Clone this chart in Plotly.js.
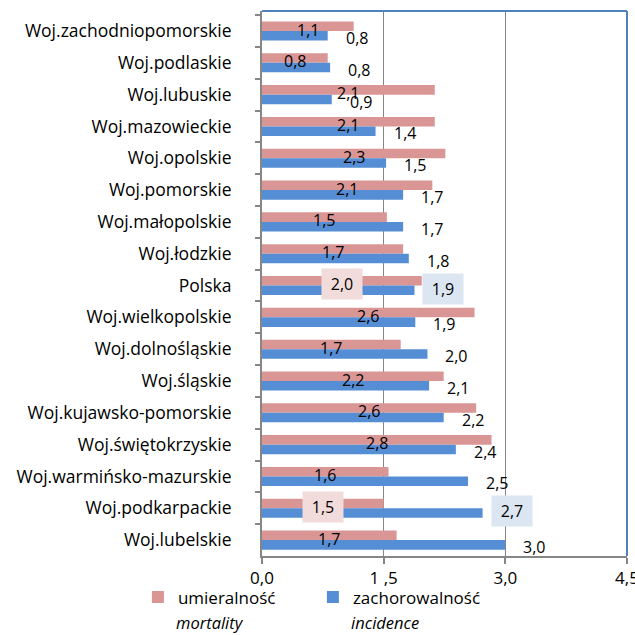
<!DOCTYPE html>
<html>
<head>
<meta charset="utf-8">
<script src="https://cdn.plot.ly/plotly-3.0.1.min.js"></script>
<style>html,body{margin:0;padding:0;background:#fff;}#chart{width:635px;height:635px;}</style>
</head>
<body>
<div id="chart"></div>
<script>
// Categories listed top to bottom
const categories = [
  "Woj.zachodniopomorskie","Woj.podlaskie","Woj.lubuskie","Woj.mazowieckie",
  "Woj.opolskie","Woj.pomorskie","Woj.małopolskie","Woj.łodzkie","Polska",
  "Woj.wielkopolskie","Woj.dolnośląskie","Woj.śląskie","Woj.kujawsko-pomorskie",
  "Woj.świętokrzyskie","Woj.warmińsko-mazurskie","Woj.podkarpackie","Woj.lubelskie"
];
// umieralność (mortality)
const mortality = [1.13,0.81,2.13,2.13,2.26,2.10,1.54,1.74,1.97,2.62,1.71,2.24,2.64,2.83,1.56,1.50,1.66];
// zachorowalność (incidence)
const incidence = [0.81,0.84,0.86,1.40,1.53,1.74,1.74,1.81,1.88,1.89,2.04,2.06,2.24,2.39,2.54,2.72,3.00];
const seriesNames = ["umieralność","zachorowalność"];
const seriesSubtitles = ["mortality","incidence"];
const xTickVals = [0,1.5,3,4.5];
const xTickText = ["0,0","1 ,5","3,0","4,5"];
const highlighted = ["Polska","Woj.podkarpackie"];

const pink = "#D99694", blue = "#558ED5";
const fontFam = "'Open Sans', sans-serif";
const fmt = v => v.toFixed(1).replace(".", ",");

const traces = [
  {type:"bar", orientation:"h", name:seriesNames[0], y:categories, x:mortality,
   marker:{color:pink, line:{width:0}}, hoverinfo:"x+y"},
  {type:"bar", orientation:"h", name:seriesNames[1], y:categories, x:incidence,
   marker:{color:blue, line:{width:0}}, hoverinfo:"x+y"}
];

const annotations = [];
categories.forEach((c,i)=>{
  const hi = highlighted.includes(c);
  const a1 = {x:mortality[i]/2, y:c, xref:"x", yref:"y", text:fmt(mortality[i]),
    showarrow:false, xanchor:"center", yanchor:"middle", yshift:1.5,
    font:{family:fontFam,size:16,color:"#000"}};
  const a2 = {x:incidence[i], y:c, xref:"x", yref:"y", text:fmt(incidence[i]),
    showarrow:false, xanchor:"center", yanchor:"middle", xshift:29, yshift:-7,
    font:{family:fontFam,size:16,color:"#000"}};
  if(hi){
    Object.assign(a1,{bgcolor:"#F2DCDB", width:38, height:28, borderpad:1});
    Object.assign(a2,{bgcolor:"#DCE6F2", width:38, height:28, borderpad:1, yshift:-3});
  }
  annotations.push(a1,a2);
});
// italic subtitles under legend entries
annotations.push(
  {xref:"paper", yref:"paper", x:-0.238, y:-0.122, xanchor:"left", yanchor:"middle",
   text:"<i>"+seriesSubtitles[0]+"</i>", showarrow:false, borderpad:0,
   font:{family:fontFam,size:16.5,color:"#000"}},
  {xref:"paper", yref:"paper", x:0.24, y:-0.122, xanchor:"left", yanchor:"middle",
   text:"<i>"+seriesSubtitles[1]+"</i>", showarrow:false, borderpad:0,
   font:{family:fontFam,size:16.5,color:"#000"}}
);

const layout = {
  width:635, height:635,
  margin:{l:262, r:8, t:11, b:79, pad:0},
  paper_bgcolor:"#fff", plot_bgcolor:"#fff",
  barmode:"group", bargap:0.4, bargroupgap:0,
  showlegend:true,
  legend:{orientation:"h", x:-0.34, xanchor:"left", y:-0.076, yanchor:"middle",
    font:{family:fontFam,size:17,color:"#000"}, traceorder:"normal",
    entrywidth:130, itemwidth:30, bgcolor:"rgba(0,0,0,0)"},
  xaxis:{range:[0,4.5], tickvals:xTickVals, ticktext:xTickText,
    showgrid:true, gridcolor:"#868686", gridwidth:1.5, zeroline:false,
    showline:true, linecolor:"#868686", linewidth:2,
    ticks:"outside", ticklen:6, tickcolor:"#868686", tickwidth:2,
    ticklabeloverflow:"allow",
    tickfont:{family:fontFam,size:17,color:"#000"}, fixedrange:true},
  yaxis:{type:"category", autorange:"reversed", categoryorder:"array", categoryarray:categories,
    showline:true, linecolor:"#868686", linewidth:2, showgrid:false, zeroline:false,
    ticks:"outside", ticklen:5, tickcolor:"#868686", tickwidth:2, tickson:"boundaries",
    ticklabelstandoff:25,
    tickfont:{family:fontFam,size:17.5,color:"#000"}, fixedrange:true},
  shapes:[
    {type:"line", xref:"paper", yref:"paper", x0:0, x1:1, y0:1, y1:1, line:{color:"#4F81BD", width:2}},
    {type:"line", xref:"paper", yref:"paper", x0:1, x1:1, y0:0, y1:1, line:{color:"#4F81BD", width:2}}
  ],
  annotations:annotations
};

Plotly.newPlot("chart", traces, layout, {displayModeBar:false, staticPlot:true});
</script>
</body>
</html>
